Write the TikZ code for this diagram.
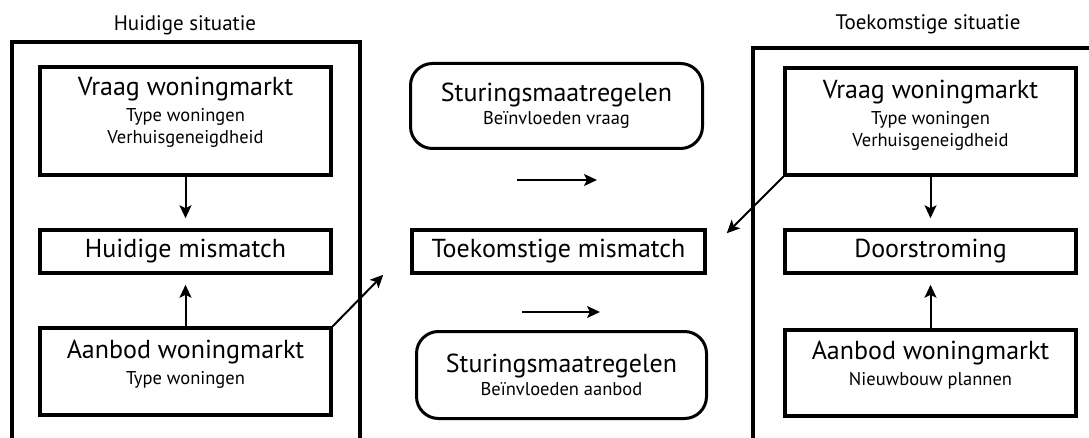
\documentclass[tikz,border=0pt]{standalone}
\usepackage{fontspec}
\setmainfont{PT Sans}
\usetikzlibrary{arrows.meta,positioning}
\newcommand{\bigtxt}{\fontsize{26}{31}\selectfont}
\newcommand{\smalltxt}{\fontsize{18.5}{22}\selectfont}
\newcommand{\titletxt}{\fontsize{21}{25}\selectfont}

\begin{document}
\begin{tikzpicture}[x=1pt,y=-1pt,
    frame/.style={line width=4pt},
    box/.style={draw,line width=3.5pt,minimum width=291pt,inner sep=0pt},
    roundbox/.style={draw,line width=3pt,rounded corners=22pt,minimum width=292pt,
      inner sep=0pt,align=center,font=\smalltxt},
    boxtext/.style={align=center,inner sep=0pt,font=\smalltxt},
    arr/.style={line width=2pt,-{Stealth[length=13pt,width=12pt,inset=3pt]}}]
    \useasboundingbox (0,0) rectangle (1089,438);
    \draw[frame] (12,442) -- (12,42) -- (360,42) -- (360,442)
    (753,442) -- (753,48) -- (1095,48);
    \node[font=\titletxt] (titleL) at (185,25) {Huidige situatie};
    \node[font=\titletxt] (titleR) at (928,24) {Toekomstige situatie};

    \node[box,minimum height=108pt] (vraagL) at (185.5,121) {};
    \node[boxtext,below=12pt of vraagL.north] (vraagLtxt)
    {{\bigtxt Vraag woningmarkt}\\[4pt] Type woningen\\ Verhuisgeneigdheid};
    \node[box,minimum height=43pt,font=\bigtxt] (mismL) at (185.5,251.5) {Huidige mismatch};
    \node[box,minimum height=87pt] (aanbodL) at (185.5,371.5) {};
    \node[boxtext,below=14pt of aanbodL.north] (aanbodLtxt)
    {{\bigtxt Aanbod woningmarkt}\\[4pt] Type woningen};

    \node[roundbox,minimum height=85pt] (sturV) at (556.5,106)
    {{\bigtxt Sturingsmaatregelen}\\[1pt] Beïnvloeden vraag};
    \node[box,minimum height=43pt,minimum width=293pt,font=\bigtxt] (toek) at (558.5,251.5)
    {Toekomstige mismatch};
    \node[roundbox,minimum height=87pt,minimum width=290pt] (sturA) at (561.5,375)
    {{\bigtxt Sturingsmaatregelen}\\[1pt] Beïnvloeden aanbod};

    \node[box,minimum height=107pt] (vraagR) at (930.5,121.5) {};
    \node[boxtext,below=14pt of vraagR.north] (vraagRtxt)
    {{\bigtxt Vraag woningmarkt}\\[4pt] Type woningen\\ Verhuisgeneigdheid};
    \node[box,minimum height=43pt,font=\bigtxt] (door) at (930.5,251.5) {Doorstroming};
    \node[box,minimum height=86pt] (aanbodR) at (930.5,373) {};
    \node[boxtext,below=13pt of aanbodR.north] (aanbodRtxt)
    {{\bigtxt Aanbod woningmarkt}\\[4pt] Nieuwbouw plannen};

    \coordinate (v1) at (517,180);
    \coordinate (v2) at (597,180);
    \coordinate (a1) at (522,312);
    \coordinate (a2) at (600,312);
    \draw[arr,shorten >=10pt] (vraagL) -- (mismL);
    \draw[arr,shorten >=10pt] (aanbodL) -- (mismL);
    \draw[arr] (aanbodL.north east) -- ([xshift=-27pt]toek.south west);
    \draw[arr] (v1) -- (v2);
    \draw[arr] (a1) -- (a2);
    \draw[arr] (vraagR.south west) -- ([xshift=20pt,yshift=-5pt]toek.north east);
    \draw[arr,shorten >=10pt] (vraagR) -- (door);
    \draw[arr,shorten >=10pt] (aanbodR) -- (door);
\end{tikzpicture}
\end{document}
